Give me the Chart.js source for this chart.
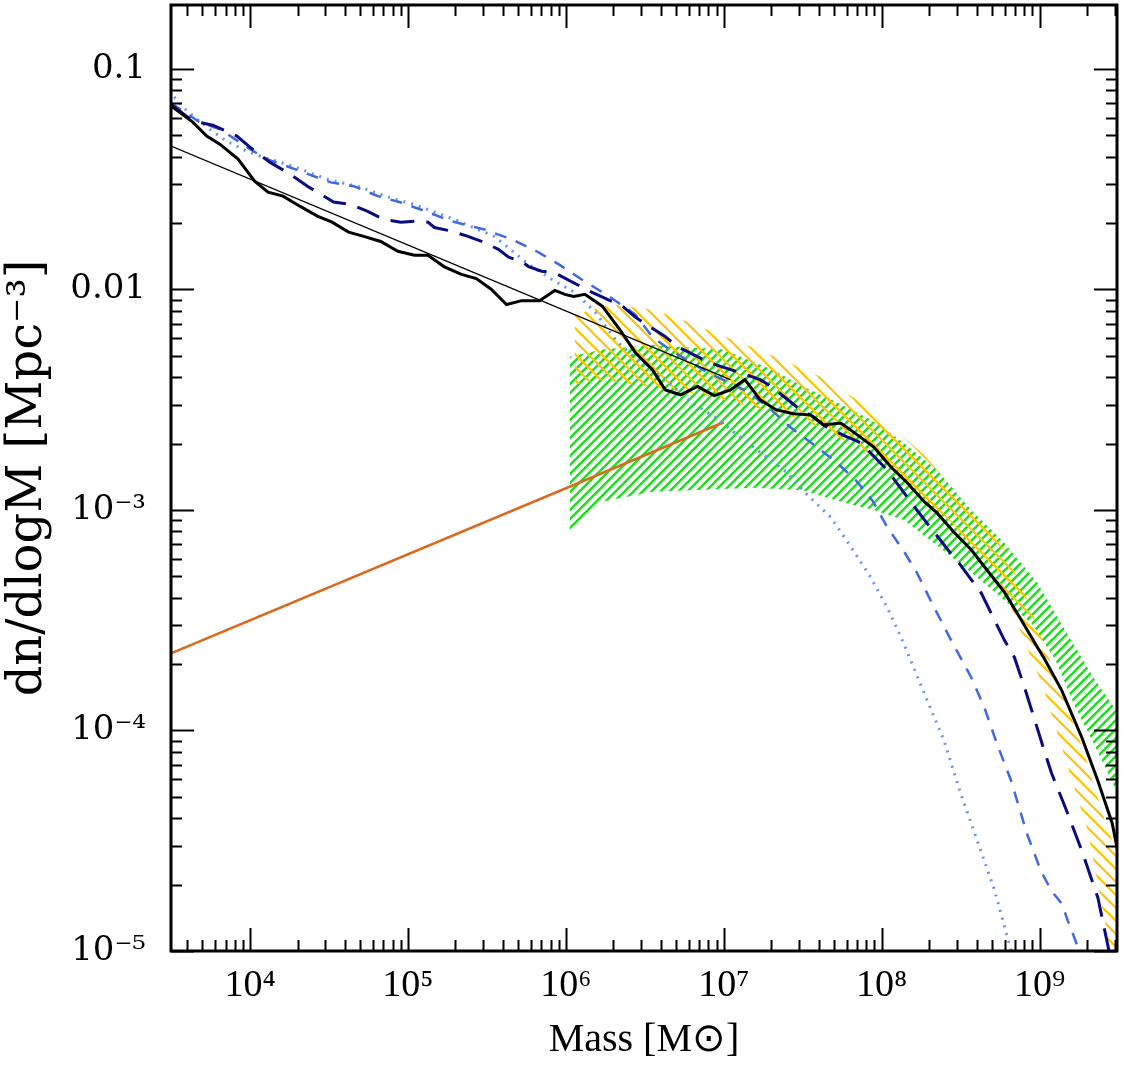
<!DOCTYPE html>
<html>
<head>
<meta charset="utf-8">
<script src="https://cdn.jsdelivr.net/npm/chart.js@4"></script>
<style>
  html, body { margin: 0; padding: 0; background: #fff; }
  #wrap { width: 1123px; height: 1069px; }
</style>
</head>
<body>
<div id="wrap"><canvas id="massFn" width="1123" height="1069"></canvas></div>
<script>
// simulated mass function (thick black)
const massBlack = [3.16e3,4.34e3,5.32e3,6.44e3,8.4e3,1.07e4,1.30e4,1.62e4,2.08e4,2.67e4,3.31e4,4.21e4,5.25e4,6.73e4,8.63e4,1.10e5,1.34e5,1.69e5,2.18e5,2.71e5,3.38e5,4.21e5,5.25e5,6.82e5,8.51e5,9.86e5,1.12e6,1.32e6,1.70e6,2.19e6,2.75e6,3.53e6,4.27e6,5.32e6,6.82e6,8.71e6,1.10e7,1.36e7,1.70e7,2.14e7,2.75e7,3.53e7,4.27e7,5.50e7,6.61e7,8.91e7,1.14e8,1.45e8,1.86e8,2.24e8,2.88e8,3.69e8,4.68e8,5.98e8,7.67e8,9.7e8,1.07e9,1.38e9,1.85e9,2.34e9,2.88e9,3.31e9];
const dnBlack = [0.068,0.0574,0.0496,0.0456,0.039,0.031,0.0276,0.0265,0.0238,0.0215,0.0202,0.0182,0.0174,0.0165,0.0149,0.0143,0.0143,0.0127,0.0117,0.0112,0.0100,0.00855,0.0089,0.0089,0.0099,0.0095,0.0093,0.0095,0.0084,0.0066,0.00518,0.00433,0.0035,0.00333,0.00363,0.0033,0.0035,0.0039,0.00316,0.00285,0.00273,0.0027,0.00243,0.00248,0.00226,0.00193,0.00157,0.00133,0.00109,0.00097,0.00079,0.00066,0.00053,0.000424,0.000316,0.000238,0.000212,0.000152,9.3e-5,5.9e-5,3.8e-5,2.3e-5];

// long dashed navy
const massNavy = [3.16e3,4.34e3,5.81e3,8.26e3,1.07e4,1.34e4,1.80e4,2.31e4,3.38e4,4.34e4,5.56e4,7.03e4,9.02e4,1.10e5,1.34e5,1.47e5,1.88e5,2.40e5,3.01e5,3.74e5,4.34e5,5.25e5,5.81e5,7.03e5,8.51e5,1.42e6,2.28e6,2.75e6,4.27e6,5.09e6,8.13e6,1.01e7,1.26e7,1.70e7,2.0e7,3.05e7,3.69e7,4.47e7,5.98e7,7.35e7,1.08e8,1.23e8,1.67e8,1.94e8,2.67e8,3.09e8,4.27e8,5.98e8,6.92e8,8.02e8,1.07e9,1.19e9,1.45e9,1.85e9,2.34e9,2.75e9];
const dnNavy = [0.069,0.058,0.0556,0.0496,0.0424,0.0377,0.0333,0.0294,0.0249,0.0243,0.0226,0.0208,0.0202,0.0204,0.0202,0.0191,0.0184,0.0174,0.0164,0.0152,0.014,0.0134,0.0127,0.0121,0.0119,0.0098,0.0084,0.0075,0.0061,0.0055,0.00466,0.00442,0.0042,0.0039,0.00363,0.00285,0.00265,0.00238,0.00215,0.00202,0.00152,0.00134,0.001,0.00087,0.00065,0.000574,0.00042,0.000257,0.000215,0.000157,8.1e-5,6.4e-5,4.5e-5,2.85e-5,1.74e-5,1.0e-5];

// short dashed royal blue
const massRoyal = [3.16e3,4.79e3,6.46e3,1.0e4,1.28e4,2.08e4,3.24e4,4.53e4,6.46e4,9.02e4,1.30e5,1.88e5,3.05e5,4.53e5,6.53e5,9.02e5,1.26e6,1.88e6,2.75e6,3.53e6,4.53e6,7.94e6,1.42e7,1.96e7,2.63e7,3.63e7,5.09e7,6.82e7,8.77e7,1.08e8,1.38e8,1.67e8,2.14e8,2.75e8,3.69e8,4.47e8,5.37e8,6.61e8,8.32e8,1.02e9,1.19e9,1.38e9,1.51e9,1.66e9,1.78e9];
const dnRoyal = [0.070,0.0574,0.0533,0.0433,0.039,0.0344,0.0306,0.0294,0.0265,0.0248,0.0226,0.0204,0.0187,0.0169,0.0149,0.013,0.0111,0.0093,0.0077,0.0061,0.00534,0.0042,0.00344,0.00288,0.00238,0.0020,0.00166,0.00137,0.0011,0.00084,0.00065,0.00052,0.000363,0.000257,0.000174,0.000127,8.7e-5,5.9e-5,3.4e-5,2.3e-5,1.87e-5,1.64e-5,1.37e-5,1.15e-5,1.0e-5];

// dotted light blue
const massDot = [3.31e3,3.98e3,5.56e3,7.13e3,9.55e3,1.21e4,1.88e4,3.09e4,5.01e4,8.13e4,1.10e5,1.96e5,3.53e5,5.81e5,8.51e5,1.14e6,1.53e6,2.11e6,2.92e6,4.27e6,6.31e6,8.91e6,1.26e7,1.86e7,2.48e7,3.31e7,4.73e7,5.98e7,8.51e7,1.08e8,1.38e8,1.94e8,2.48e8,3.16e8,4.03e8,5.13e8,6.17e8,6.61e8];
const dnDot = [0.0746,0.0645,0.0533,0.047,0.0424,0.0398,0.0362,0.0316,0.0291,0.0257,0.0243,0.0208,0.0174,0.013,0.0109,0.0097,0.0079,0.0058,0.0047,0.0039,0.00306,0.00262,0.00215,0.00174,0.00149,0.00119,0.00093,0.00073,0.000496,0.000363,0.000248,1.37e-4,9.0e-5,5.2e-5,3.16e-5,1.93e-5,1.2e-5,1.0e-5];

// power laws
const massPowerLaw = [3.16e3, 1.1e7];
const dnPowerLaw = [0.0447, 0.0039];
const massOrange = [3.16e3, 1.0e7];
const dnOrange = [2.24e-4, 2.5e-3];

// green hatched band
const massGreenHi = [1.06e6,1.70e6,3.53e6,9.86e6,2.04e7,3.18e7,5.16e7,8.51e7,1.38e8,2.24e8,3.69e8,5.98e8,9.70e8,1.58e9,2.24e9,3.39e9];
const dnGreenHi = [4.95e-3,5.34e-3,5.6e-3,5.34e-3,4.33e-3,3.63e-3,3.09e-3,2.57e-3,2.02e-3,1.52e-3,1.0e-3,7.1e-4,4.66e-4,2.57e-4,1.7e-4,1.11e-4];
const massGreenLo = [1.06e6,1.70e6,3.53e6,1.53e7,3.18e7,5.73e7,8.91e7,1.38e8,2.24e8,3.69e8,5.98e8,8.91e8,1.26e9,1.66e9,2.24e9,3.39e9];
const dnGreenLo = [7.85e-4,1.09e-3,1.21e-3,1.26e-3,1.23e-3,1.08e-3,1.0e-3,9.0e-4,6.9e-4,5.2e-4,3.9e-4,3.06e-4,2.09e-4,1.3e-4,8.5e-5,4.57e-5];

// yellow hatched band
const massYellowHi = [1.14e6,1.96e6,3.53e6,5.73e6,9.44e6,1.53e7,2.48e7,4.07e7,6.61e7,1.03e8,1.85e8,3.33e8,5.98e8,8.39e8,1.16e9,1.80e9,2.59e9,3.39e9];
const dnYellowHi = [7.7e-3,8.55e-3,8.1e-3,7.2e-3,6.24e-3,5.45e-3,4.71e-3,4.03e-3,3.24e-3,2.57e-3,1.78e-3,1.11e-3,6.6e-4,3.9e-4,2.09e-4,9.0e-5,3.9e-5,2.3e-5];
const massYellowLo = [1.14e6,1.70e6,7.35e6,3.18e7,6.61e7,1.38e8,2.88e8,5.98e8,1.07e9,1.45e9,2.02e9,2.59e9,3.01e9];
const dnYellowLo = [3.7e-3,3.9e-3,3.33e-3,2.57e-3,1.97e-3,1.37e-3,8.55e-4,4.33e-4,1.52e-4,7.5e-5,3.5e-5,1.37e-5,6.6e-6];

const xTickValues = [1e4, 1e5, 1e6, 1e7, 1e8, 1e9];
const xTickLabels = ['10⁴', '10⁵', '10⁶', '10⁷', '10⁸', '10⁹'];
const yTickValues = [1e-5, 1e-4, 1e-3, 1e-2, 1e-1];
const yTickLabels = ['10⁻⁵', '10⁻⁴', '10⁻³', '0.01', '0.1'];

const pts = (xs, ys) => xs.map((x, i) => ({x: x, y: ys[i]}));
const band = (xh, yh, xl, yl) => pts(xh, yh).concat(pts(xl, yl).reverse());

const canvas = document.getElementById('massFn');
const ctx = canvas.getContext('2d');

function hatch(color, size, width, rising) {
  const c = document.createElement('canvas');
  c.width = size; c.height = size;
  const g = c.getContext('2d');
  g.strokeStyle = color;
  g.lineWidth = width;
  g.beginPath();
  if (rising) {
    g.moveTo(0, size); g.lineTo(size, 0);
    g.moveTo(-2, 2); g.lineTo(2, -2);
    g.moveTo(size - 2, size + 2); g.lineTo(size + 2, size - 2);
  } else {
    g.moveTo(0, 0); g.lineTo(size, size);
    g.moveTo(size - 2, -2); g.lineTo(size + 2, 2);
    g.moveTo(-2, size - 2); g.lineTo(2, size + 2);
  }
  g.stroke();
  return ctx.createPattern(c, 'repeat');
}

// ticks inside the frame on all four sides, plus the frame itself
const frameTicks = {
  id: 'frameTicks',
  afterDraw(chart) {
    const {ctx, chartArea: a, scales: {x, y}} = chart;
    ctx.save();
    ctx.strokeStyle = '#000';
    ctx.lineWidth = 2;
    ctx.beginPath();
    for (let e = 3; e <= 9; e++) {
      for (let m = 1; m <= 9; m++) {
        const v = m * Math.pow(10, e);
        if (v < x.min || v > x.max) continue;
        const px = Math.round(x.getPixelForValue(v)) + 0.5;
        const len = m === 1 ? 23 : 11;
        ctx.moveTo(px, a.bottom); ctx.lineTo(px, a.bottom - len);
        ctx.moveTo(px, a.top); ctx.lineTo(px, a.top + len);
      }
    }
    for (let e = -6; e <= 0; e++) {
      for (let m = 1; m <= 9; m++) {
        const v = m * Math.pow(10, e);
        if (v < y.min || v > y.max) continue;
        const py = Math.round(y.getPixelForValue(v)) + 0.5;
        const len = m === 1 ? 23 : 11;
        ctx.moveTo(a.left, py); ctx.lineTo(a.left + len, py);
        ctx.moveTo(a.right, py); ctx.lineTo(a.right - len, py);
      }
    }
    ctx.stroke();
    ctx.lineWidth = 3;
    ctx.strokeRect(a.left, a.top, a.right - a.left, a.bottom - a.top);
    ctx.restore();
  }
};

const lineDefaults = {showLine: true, pointRadius: 0, fill: false, tension: 0};

new Chart(ctx, {
  type: 'scatter',
  data: {
    datasets: [
      Object.assign({}, lineDefaults, {label: 'simulation', data: pts(massBlack, dnBlack), borderColor: '#000000', borderWidth: 3}),
      Object.assign({}, lineDefaults, {label: 'power law', data: pts(massPowerLaw, dnPowerLaw), borderColor: '#000000', borderWidth: 1.3}),
      Object.assign({}, lineDefaults, {label: 'long dash', data: pts(massNavy, dnNavy), borderColor: '#0b0b80', borderWidth: 3, borderDash: [24, 12]}),
      Object.assign({}, lineDefaults, {label: 'short dash', data: pts(massRoyal, dnRoyal), borderColor: '#4169e1', borderWidth: 2.5, borderDash: [12, 10]}),
      Object.assign({}, lineDefaults, {label: 'dotted', data: pts(massDot, dnDot), borderColor: '#6495ed', borderWidth: 3, borderDash: [2, 6]}),
      Object.assign({}, lineDefaults, {label: 'orange', data: pts(massOrange, dnOrange), borderColor: '#d9691f', borderWidth: 2.5}),
      Object.assign({}, lineDefaults, {label: 'yellow band', data: band(massYellowHi, dnYellowHi, massYellowLo, dnYellowLo), borderWidth: 0, borderColor: 'rgba(0,0,0,0)', backgroundColor: hatch('#ffc400', 13, 2.2, false), fill: 'shape'}),
      Object.assign({}, lineDefaults, {label: 'green band', data: band(massGreenHi, dnGreenHi, massGreenLo, dnGreenLo), borderWidth: 0, borderColor: 'rgba(0,0,0,0)', backgroundColor: hatch('#1fe01f', 9, 2.6, true), fill: 'shape'})
    ]
  },
  options: {
    responsive: false,
    animation: false,
    layout: {padding: {top: 5, right: 6, left: 0, bottom: 0}},
    plugins: {legend: {display: false}, tooltip: {enabled: false}},
    scales: {
      x: {
        type: 'logarithmic',
        min: 3.16e3,
        max: 3.09e9,
        grid: {display: false, drawTicks: false},
        border: {display: false},
        afterFit: s => { s.height = 118; s.paddingLeft = 0; s.paddingRight = 0; },
        afterBuildTicks: s => { s.ticks = xTickValues.map(v => ({value: v})); },
        ticks: {
          autoSkip: false,
          maxRotation: 0,
          padding: 12,
          color: '#000',
          font: {family: 'Liberation Serif', size: 38},
          callback: v => xTickLabels[xTickValues.indexOf(v)]
        },
        title: {
          display: true,
          text: 'Mass [M⊙]',
          color: '#000',
          font: {family: 'Liberation Serif', size: 40},
          padding: {top: 0, bottom: 5}
        }
      },
      y: {
        type: 'logarithmic',
        min: 1e-5,
        max: 0.195,
        grid: {display: false, drawTicks: false},
        border: {display: false},
        afterFit: s => { s.width = 171; s.paddingTop = 0; s.paddingBottom = 0; },
        afterBuildTicks: s => { s.ticks = yTickValues.map(v => ({value: v})); },
        ticks: {
          autoSkip: false,
          padding: 25,
          color: '#000',
          font: {family: 'DejaVu Serif', size: 34},
          callback: v => yTickLabels[yTickValues.indexOf(v)]
        },
        title: {
          display: true,
          text: 'dn/dlogM [Mpc⁻³]',
          color: '#000',
          font: {family: 'DejaVu Serif', size: 48},
          padding: {top: 0, bottom: 0}
        }
      }
    }
  },
  plugins: [frameTicks]
});
</script>
</body>
</html>
